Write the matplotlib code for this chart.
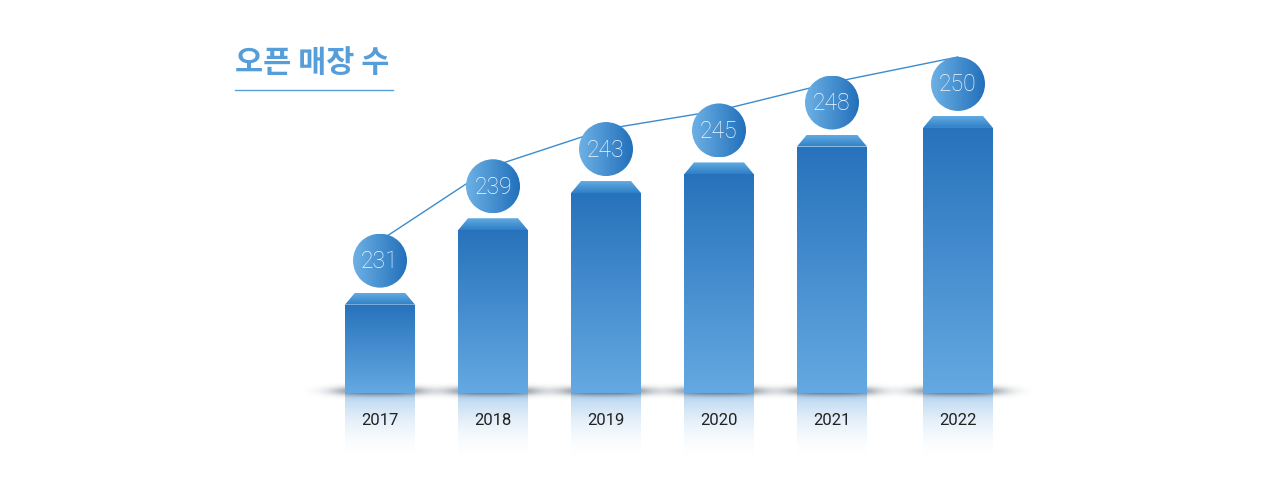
import numpy as np
import matplotlib.pyplot as plt
from matplotlib.patches import Polygon, Ellipse
from matplotlib.lines import Line2D
from matplotlib.colors import to_rgb

# open stores per year
years = ['2017', '2018', '2019', '2020', '2021', '2022']
stores = [231, 239, 243, 245, 248, 250]
title = '오픈 매장 수'

# layout (pixels on a 1280x488 canvas)
W, H = 1280, 488
x_pos = [0, 1, 2, 3, 4, 5.115]
sx, sy = 113.0, 9.3          # px per category step / px per store
x0_px, base_px = 380, 393    # where x=0 and the baseline sit
base = 221.5

fig = plt.figure(figsize=(W / 100, H / 100), dpi=100)
ax = fig.add_axes([0, 0, 1, 1])
ax.axis('off')
ax.set_xlim(-x0_px / sx, (W - x0_px) / sx)
ax.set_ylim(base - (H - base_px) / sy, base + base_px / sy)


def pw(p):
    return p / sx


def ph(p):
    return p / sy


def grad_img(c0, c1, n=256, a0=1.0, a1=1.0, horizontal=False, gamma=1.0):
    # c0 at top (or left), c1 at bottom (or right)
    t = np.linspace(0, 1, n)
    rgb = (1 - t)[:, None] * np.array(to_rgb(c0)) + t[:, None] * np.array(to_rgb(c1))
    a = a1 + (a0 - a1) * (1 - t) ** gamma
    img = np.column_stack([rgb, a])[:, None, :]   # (n,1,4)
    if horizontal:
        img = img.transpose(1, 0, 2)
    return img


def fill(patch, img, extent, z):
    ax.add_patch(patch)
    im = ax.imshow(img, extent=extent, origin='upper', aspect='auto',
                   zorder=z, interpolation='bilinear')
    im.set_clip_path(patch)


bar_w = pw(70)
cap_h = ph(12)
inset = pw(10)
r = 27

bars = ax.bar(x_pos, [v - base for v in stores], bottom=base, width=bar_w,
              color='none', edgecolor='none', zorder=3)

circle_y = []
for x, v, yr, b in zip(x_pos, stores, years, bars):
    l, rr = x - bar_w / 2, x + bar_w / 2
    # reflection under the bar
    ax.imshow(grad_img('#4f98da', '#4f98da', a0=0.45, a1=0.0, gamma=2.2),
              extent=(l, rr, base - ph(72), base), origin='upper',
              aspect='auto', zorder=1, interpolation='bilinear')
    # soft shadow at the foot
    gx = np.linspace(-80, 80, 161)
    gy = np.linspace(-12, 12, 49)
    dx, dy = np.meshgrid(gx, gy)
    a = 0.65 * np.exp(-(np.abs(dx) / 46) ** 3) * np.exp(-((dy + 2) / 4.5) ** 2)
    sh = np.zeros(a.shape + (4,))
    sh[..., :3] = to_rgb('#263446')
    sh[..., 3] = a
    ax.imshow(sh, extent=(x - pw(80), x + pw(80), base - ph(12), base + ph(12)),
              origin='upper', aspect='auto', zorder=2, interpolation='bilinear')
    # bar body
    fill(b, grad_img('#2772bc', '#64a9e1'), (l, rr, base, v), 3)
    # bevelled top
    cap = Polygon([(l, v), (rr, v), (rr - inset, v + cap_h), (l + inset, v + cap_h)],
                  closed=True, facecolor='none', edgecolor='none')
    fill(cap, grad_img('#62abe2', '#2f7fc6'), (l, rr, v, v + cap_h), 3)
    # value bubble
    cy = v + cap_h + ph(32)
    circle_y.append(cy)
    circ = Ellipse((x, cy), pw(2 * r), ph(2 * r), facecolor='none', edgecolor='none')
    fill(circ, grad_img('#6db1e5', '#2270bb', horizontal=True),
         (x - pw(r), x + pw(r), cy - ph(r), cy + ph(r)), 5)
    ax.text(x, cy - ph(1), str(v), ha='center', va='center', fontsize=16.5,
            fontfamily='Roboto', fontweight='light', color='#f4f8fd', zorder=6)
    ax.text(x, base - ph(27), yr, ha='center', va='center',
            fontsize=12, fontfamily='Roboto', color='#222222', zorder=6)

# trend line passing behind the bubbles
line_y = [cy + ph(20) for cy in circle_y]
line_y[-1] = circle_y[-1] + ph(r)
ax.plot(x_pos, line_y, color='#3b8ccf', lw=1.0, zorder=4)

# title with underline
fig.text(235 / W, 1 - 63 / H, title, ha='left', va='center', fontsize=22,
         fontweight='bold', family=['Noto Sans CJK KR', 'DejaVu Sans'], color='#559ed9')
fig.add_artist(Line2D([235 / W, 393 / W], [1 - 90 / H, 1 - 90 / H],
                      color='#5aa0da', lw=1.0, transform=fig.transFigure))

fig.savefig('out.png', dpi=100)
